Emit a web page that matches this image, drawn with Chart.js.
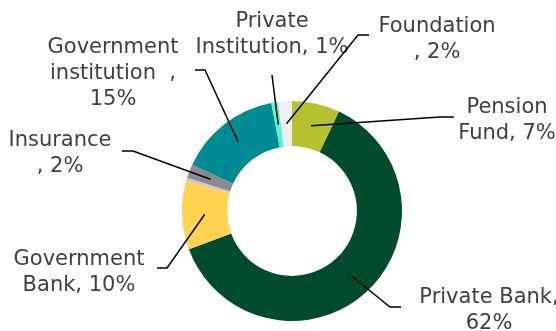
<!DOCTYPE html>
<html>
<head>
<meta charset="utf-8">
<script src="https://cdn.jsdelivr.net/npm/chart.js@4"></script>
<style>
  html, body { margin: 0; padding: 0; background: #fff; }
  #wrap { position: relative; width: 556px; height: 331px; }
</style>
</head>
<body>
<div id="wrap"><canvas id="chart1"></canvas></div>
<script>
// shares by investor type, clockwise from 12 o'clock
const categories = ['Pension Fund', 'Private Bank', 'Government Bank', 'Other', 'Insurance', 'Government institution', 'Private Institution', 'Foundation'];
const shares = [7, 62, 10, 0.5, 2, 15, 1, 2];
const colors = ['#b4c22e', '#004b2b', '#ffd24f', '#c9c9c9', '#8b8a8f', '#008b94', '#55f5c9', '#efefef'];

// wrapped label text, last line gets the value appended
const labelLines = [
    ['Pension', 'Fund, '],
    ['Private Bank,', ''],
    ['Government', 'Bank, '],
    null,
    ['Insurance', ', '],
    ['Government', 'institution  ,', ''],
    ['Private', 'Institution, '],
    ['Foundation', ', ']
];

// where each label sits (centre x, first baseline) and the leader line path towards the ring
const labelBoxes = [
    {x: 507, y: 113, path: [[454, 117], [440, 117]]},
    {x: 489, y: 303, path: [[401, 307], [390, 307]]},
    {x: 79, y: 265, path: [[157, 268], [167, 268]]},
    null,
    {x: 60, y: 146, path: [[122, 151], [133, 151]]},
    {x: 113, y: 53, path: [[195, 70], [205, 70]]},
    {x: 272, y: 27, path: [[272, 75]]},
    {x: 437, y: 32, path: [[369, 35], [358, 35]]}
];

const leaderLabels = {
    id: 'leaderLabels',
    afterDatasetsDraw(chart) {
        const ctx = chart.ctx;
        const arcs = chart.getDatasetMeta(0).data;
        ctx.save();
        arcs.forEach((arc, i) => {
            const box = labelBoxes[i];
            if (!box) return;
            const p = arc.getProps(['x', 'y', 'startAngle', 'endAngle', 'innerRadius', 'outerRadius'], true);
            const mid = (p.startAngle + p.endAngle) / 2;
            const r = (p.innerRadius + p.outerRadius) / 2;
            const ax = p.x + Math.cos(mid) * r;
            const ay = p.y + Math.sin(mid) * r;

            ctx.beginPath();
            ctx.strokeStyle = '#000';
            ctx.lineWidth = 1.5;
            ctx.moveTo(box.path[0][0], box.path[0][1]);
            box.path.slice(1).forEach(pt => ctx.lineTo(pt[0], pt[1]));
            ctx.lineTo(ax, ay);
            ctx.stroke();

            const lines = labelLines[i].slice();
            lines[lines.length - 1] += shares[i] + '%';
            ctx.fillStyle = '#404040';
            ctx.font = '21px "DejaVu Sans"';
            ctx.textAlign = 'center';
            ctx.textBaseline = 'alphabetic';
            lines.forEach((t, k) => ctx.fillText(t, box.x, box.y + k * 26));
        });
        ctx.restore();
    }
};

const chart1 = new Chart(document.getElementById('chart1'), {
    type: 'doughnut',
    data: {
        labels: categories,
        datasets: [{
            data: shares,
            backgroundColor: colors,
            borderWidth: 0,
            hoverOffset: 0
        }]
    },
    options: {
        responsive: true,
        maintainAspectRatio: false,
        animation: false,
        events: [],
        cutout: '59%',
        layout: {
            padding: {left: 182, right: 154, top: 101, bottom: 10}
        },
        plugins: {
            legend: {display: false},
            tooltip: {enabled: false}
        }
    },
    plugins: [leaderLabels]
});
</script>
</body>
</html>
